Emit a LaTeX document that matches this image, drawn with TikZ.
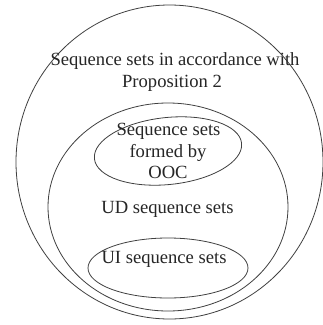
\documentclass[tikz,border=0pt]{standalone}
\usepackage{fontspec}
\setmainfont{Liberation Serif}
\usetikzlibrary{shapes.geometric}
\begin{document}
\begin{tikzpicture}[x=1pt,y=-1pt,
  setline/.style={draw=black!75, line width=0.8pt},
  lbl/.style={font=\fontsize{18.6}{21.5}\selectfont, text=black!85, inner sep=0pt, align=center}
]
\useasboundingbox (0,0) rectangle (323,325);
\fill[white] (0,0) rectangle (323,325);
% outer set
\node[setline, ellipse, minimum width=307pt, minimum height=314pt, inner sep=0pt] (outer) at (169.5,162) {};
% UD set
\node[setline, ellipse, minimum width=240pt, minimum height=208pt, inner sep=0pt] (ud) at (168,207) {};
% OOC set
\node[setline, ellipse, minimum width=148pt, minimum height=67pt, inner sep=0pt, rotate=6] (ooc) at (168,151) {};
% UI set
\node[setline, ellipse, minimum width=160pt, minimum height=60pt, inner sep=0pt] (ui) at (168,268) {};
% labels
\node[lbl, anchor=base] (t1) at (175,65) {Sequence sets in accordance with};
\node[lbl, anchor=base] (t2) at (172,87) {Proposition 2};
\node[lbl, anchor=base] (t3) at (168.5,135) {Sequence sets};
\node[lbl, anchor=base] (t4) at (168,157) {formed by};
\node[lbl, anchor=base] (t5) at (168,178) {OOC};
\node[lbl, anchor=base] (t6) at (167.5,213) {UD sequence sets};
\node[lbl, anchor=base] (t7) at (164,263) {UI sequence sets};
\end{tikzpicture}
\end{document}
